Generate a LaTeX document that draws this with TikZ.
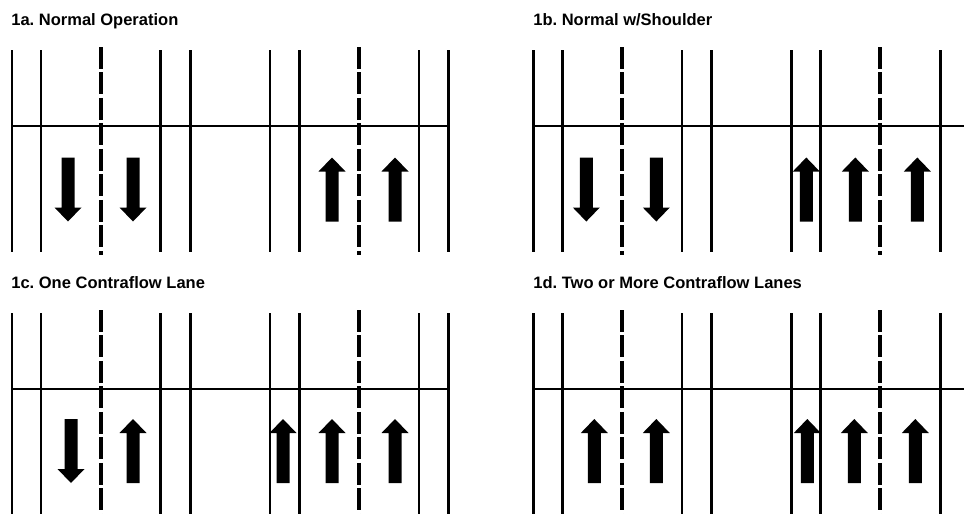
\documentclass[tikz,border=0pt]{standalone}
\usepackage{fontspec}
\setmainfont{Liberation Sans}
\usepackage{tikz}
\frenchspacing

\begin{document}
\begin{tikzpicture}[x=0.02cm, y=-0.02cm,
  edge/.style={line width=1.7pt},
  divide/.style={line width=2.3pt, dash pattern=on 12.5pt off 2pt},
  flow/.style={fill=black},
  title/.style={anchor=base west, inner sep=0pt, font=\bfseries\fontsize{9.4}{11}\selectfont}]
\useasboundingbox (0,0) rectangle (964,514);
\clip (0,0) rectangle (964,514);
%画布(useasboundingbox)与裁剪(clip)为964x514

\node[title] (t1a) at (11,25) {1a. Normal Operation};
\node[title] (t1b) at (533,25) {1b. Normal w/Shoulder};
\node[title] (t1c) at (11,288) {1c. One Contraflow Lane};
\node[title] (t1d) at (533,288) {1d. Two or More Contraflow Lanes};
%四个小图的标题(title),左下基线(base west)对齐

% 1a: \d=-1向下, \d=1向上
\begin{scope}[shift={(12,50)}]
\foreach \x/\d in {56/-1,121/-1,320/1,383/1}
  {\fill[flow] ({\x-6.5},{139.5+\d*32}) -- ({\x-6.5},{139.5-\d*18}) -- ({\x-13.5},{139.5-\d*18}) -- (\x,{139.5-\d*32}) -- ({\x+13.5},{139.5-\d*18}) -- ({\x+6.5},{139.5-\d*18}) -- ({\x+6.5},{139.5+\d*32}) -- cycle;}
\end{scope}
% 1b
\begin{scope}[shift={(533.3,50)}]
\foreach \x/\d in {53/-1,123/-1,273/1,322/1,384/1}
  {\fill[flow] ({\x-6.5},{139.5+\d*32}) -- ({\x-6.5},{139.5-\d*18}) -- ({\x-13.5},{139.5-\d*18}) -- (\x,{139.5-\d*32}) -- ({\x+13.5},{139.5-\d*18}) -- ({\x+6.5},{139.5-\d*18}) -- ({\x+6.5},{139.5+\d*32}) -- cycle;}
\end{scope}
% 1c
\begin{scope}[shift={(12,313)}]
\foreach \x/\d in {59/-1,121/1,271/1,320/1,383/1}
  {\fill[flow] ({\x-6.5},{138+\d*32}) -- ({\x-6.5},{138-\d*18}) -- ({\x-13.5},{138-\d*18}) -- (\x,{138-\d*32}) -- ({\x+13.5},{138-\d*18}) -- ({\x+6.5},{138-\d*18}) -- ({\x+6.5},{138+\d*32}) -- cycle;}
\end{scope}
% 1d
\begin{scope}[shift={(533.3,313)}]
\foreach \x/\d in {61/1,123/1,274/1,321/1,382/1}
  {\fill[flow] ({\x-6.5},{138+\d*32}) -- ({\x-6.5},{138-\d*18}) -- ({\x-13.5},{138-\d*18}) -- (\x,{138-\d*32}) -- ({\x+13.5},{138-\d*18}) -- ({\x+6.5},{138-\d*18}) -- ({\x+6.5},{138+\d*32}) -- cycle;}
\end{scope}
%箭头(fill),车道中心\x,方向\d

\foreach \px/\py in {12/50,533.3/50,12/313,533.3/313}
  {\begin{scope}[shift={(\px,\py)}]
   \foreach \x in {0,29,148.7,178.3,258,287.3,407,436.7} {\draw[edge] (\x,0) -- (\x,202);}
   \foreach \x in {88.7,347} {\draw[divide] (\x,-3) -- (\x,205);}
   \draw[edge] (0,76) -- (436.7,76);
   \end{scope}}
%路面:实线(edge)、虚线(divide)与横线
\end{tikzpicture}
\end{document}
